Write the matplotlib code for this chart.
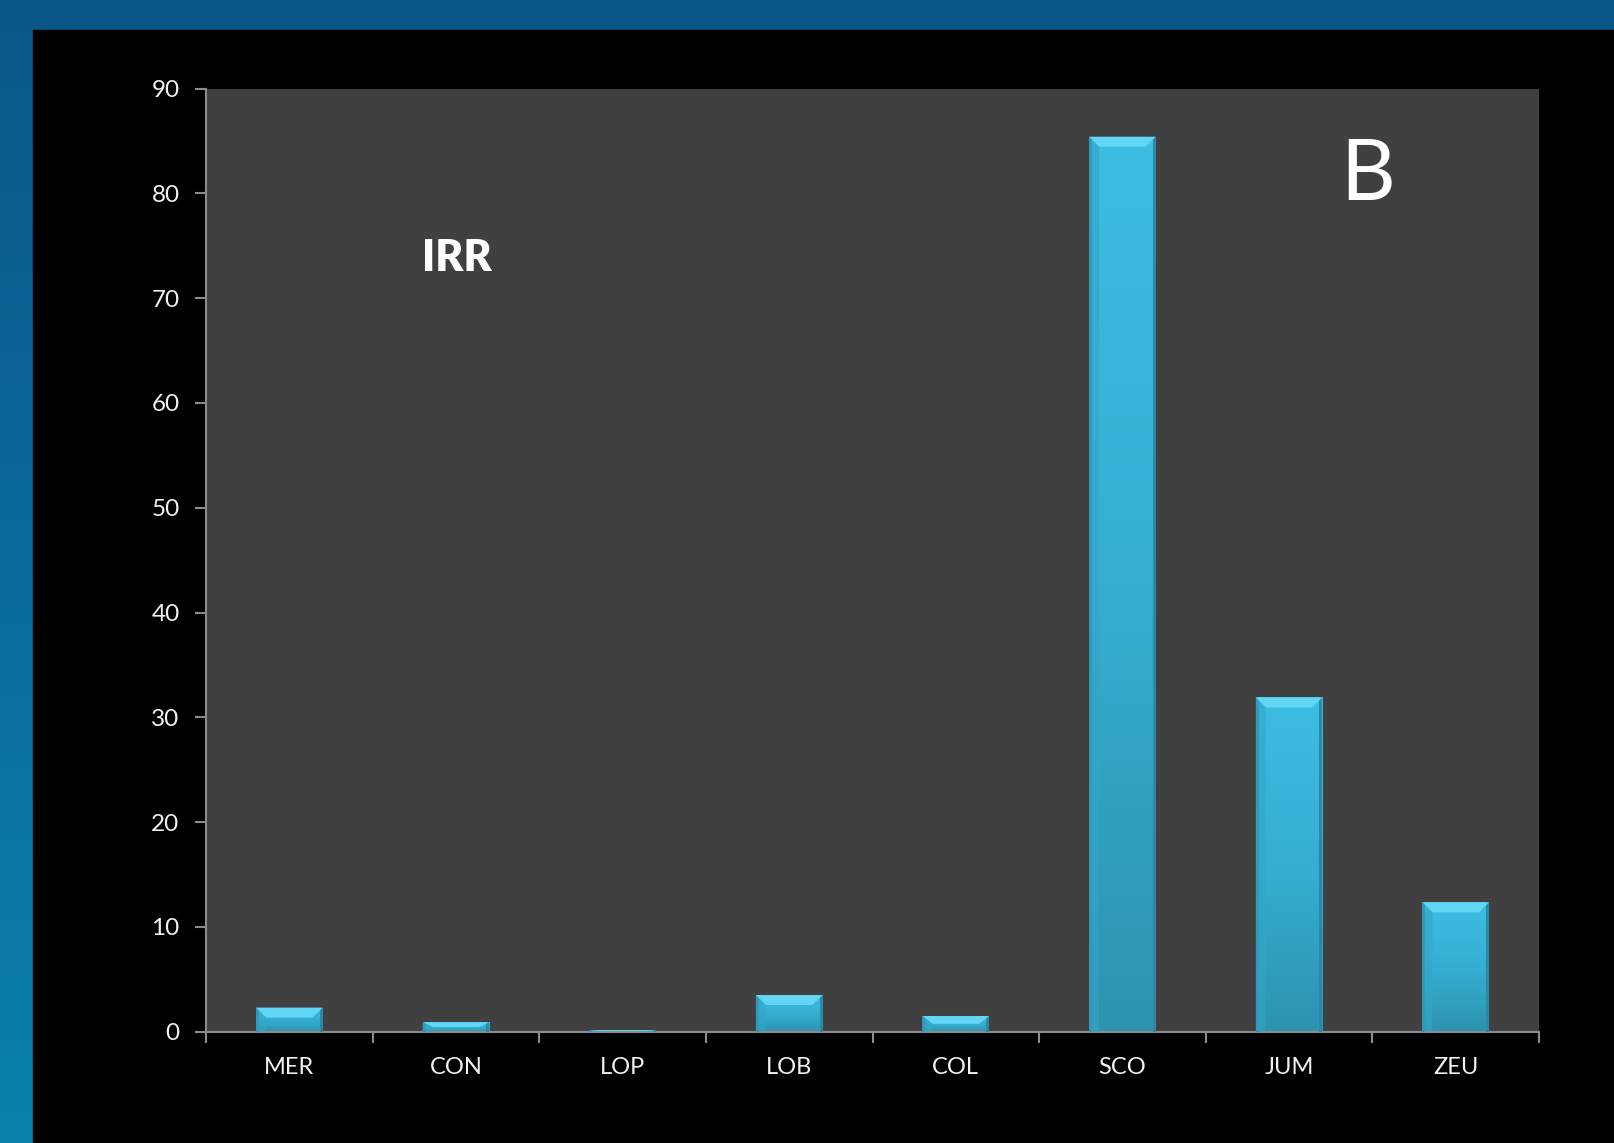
import matplotlib.pyplot as plt
import numpy as np
from matplotlib.colors import LinearSegmentedColormap
from matplotlib.patches import Polygon, Rectangle

# Dados do gráfico
especies = ['MER', 'CON', 'LOP', 'LOB', 'COL', 'SCO', 'JUM', 'ZEU']
valores = [2.3, 0.9, 0.15, 3.5, 1.5, 85.4, 31.9, 12.35]
yticks = [0, 10, 20, 30, 40, 50, 60, 70, 80, 90]

plt.rcParams['font.family'] = ['Lato', 'DejaVu Sans']

fig = plt.figure(figsize=(16.14, 11.43), dpi=100)

# Fundo azul (estilo slide) e painel preto
bg = fig.add_axes([0, 0, 1, 1], zorder=-10)
bg.set_axis_off()
grad = np.linspace(0, 1, 256).reshape(-1, 1)
cmap_bg = LinearSegmentedColormap.from_list('bg', ['#0a5688', '#0b6b9c', '#0a82aa'])
bg.imshow(grad, aspect='auto', cmap=cmap_bg, extent=[0, 1, 0, 1], origin='upper')
bg.add_patch(Rectangle((33 / 1614, 0), 1, 1 - 30 / 1143, color='black',
                       transform=bg.transAxes))
bg.set_xlim(0, 1)
bg.set_ylim(0, 1)

ax = fig.add_axes([206 / 1614, 1 - 1031.7 / 1143, 1333 / 1614, 943.2 / 1143])
ax.set_facecolor('#404040')

x = np.arange(len(especies))
largura = 0.4
bars = ax.bar(x, valores, width=largura, color='none', edgecolor='none', zorder=2)

cmap_bar = LinearSegmentedColormap.from_list('bar', ['#3dbde3', '#36aed3', '#2d93ae'])
px_y = 943.2 / 90.0
px_x = 1333 / 8.0
bev_y = 10 / px_y
bev_x = 10 / px_x
for b in bars:
    x0, w, h = b.get_x(), b.get_width(), b.get_height()
    # corpo com gradiente vertical
    im = ax.imshow(grad, aspect='auto', cmap=cmap_bar,
                   extent=[x0, x0 + w, 0, h], origin='upper', zorder=2)
    im.set_clip_path(b)
    # laterais mais escuras
    sw = 3 / px_x
    ax.add_patch(Rectangle((x0, 0), sw, h, color='#2a8aa6', lw=0, zorder=3))
    ax.add_patch(Rectangle((x0 + w - sw, 0), sw, h, color='#2a8aa6', lw=0, zorder=3))
    # chanfro superior mais claro
    d = min(bev_y, h / 2)
    ax.add_patch(Polygon([(x0, h), (x0 + w, h), (x0 + w - bev_x, h - d), (x0 + bev_x, h - d)],
                         closed=True, color='#62d6f4', lw=0, zorder=3))
    ax.add_patch(Polygon([(x0, h), (x0 + bev_x, h - d), (x0 + bev_x, 0), (x0, 0)],
                         closed=True, color='#33a6c6', lw=0, zorder=3, alpha=0.6))

ax.set_xlim(-0.5, len(especies) - 0.5)
ax.set_ylim(0, 90)
ax.set_yticks(yticks)
ax.set_yticklabels([str(v) for v in yticks])

# ticks nas divisões das categorias, rótulos no centro
ax.set_xticks(np.arange(len(especies) + 1) - 0.5)
ax.set_xticklabels([])
ax.set_xticks(x, minor=True)
ax.set_xticklabels(especies, minor=True)
ax.tick_params(axis='x', which='major', direction='out', length=8, width=1.5, color='#8c8c8c')
ax.tick_params(axis='x', which='minor', length=0, pad=18, labelsize=17, labelcolor='#f2f2f2')
ax.tick_params(axis='y', direction='out', length=8, width=1.5, color='#8c8c8c',
               pad=11, labelsize=17.5, labelcolor='#f2f2f2')

for s in ['top', 'right']:
    ax.spines[s].set_visible(False)
for s in ['left', 'bottom']:
    ax.spines[s].set_color('#8c8c8c')
    ax.spines[s].set_linewidth(1.5)

ax.text(0.188, 0.820, 'IRR', transform=ax.transAxes, fontsize=31, fontweight='heavy',
        color='white', ha='center', va='center')
ax.text(0.8715, 0.907, 'B', transform=ax.transAxes, fontsize=61,
        color='white', ha='center', va='center')

fig.savefig('out.png', dpi=100, facecolor='black')
